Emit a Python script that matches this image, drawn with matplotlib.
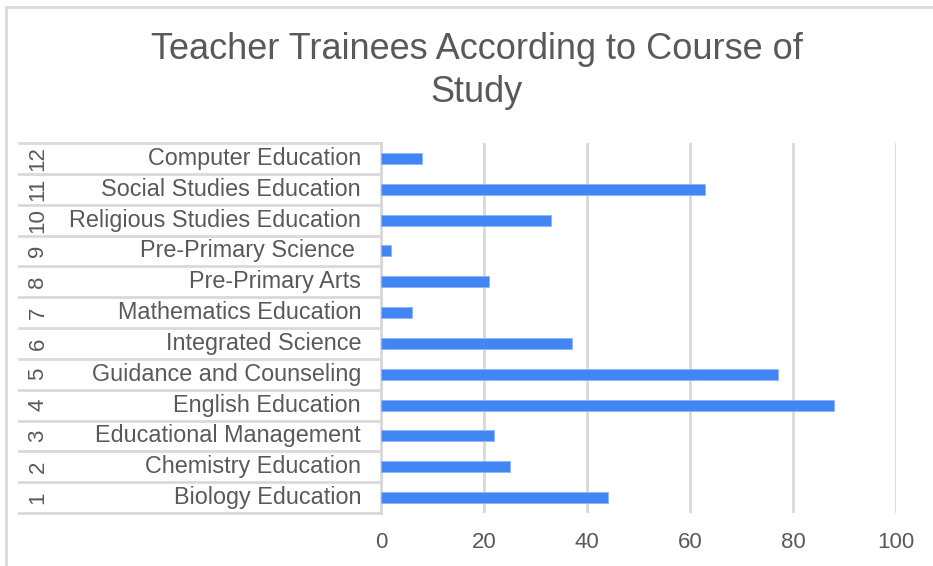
import numpy as np
from matplotlib import pyplot as plt
from matplotlib.lines import Line2D
from matplotlib import transforms

## data (bottom to top)
numbers = ['1', '2', '3', '4', '5', '6', '7', '8', '9', '10', '11', '12']
courses = ['Biology Education', 'Chemistry Education', 'Educational Management',
           'English Education', 'Guidance and Counseling', 'Integrated Science',
           'Mathematics Education', 'Pre-Primary Arts', 'Pre-Primary Science ',
           'Religious Studies Education', 'Social Studies Education', 'Computer Education']
trainees = [44, 25, 22, 88, 77, 37, 6, 21, 2, 33, 63, 8]
xticks = [0, 20, 40, 60, 80, 100]

plt.rcParams['font.family'] = ['Liberation Sans', 'DejaVu Sans']
txtcol = '#595959'
gridcol = '#d9d9d9'
W, H = 933, 566

fig = plt.figure(figsize=(W/100, H/100), dpi=100)
ax = fig.add_axes([381/W, 1-513/H, (896-381)/W, (513-143)/H])

ypos = np.arange(len(trainees))
ax.barh(ypos, trainees, height=0.36, color='#4285f4', edgecolor='#8fb4f8', linewidth=0.6, zorder=3)

ax.set_xlim(0, 100)
ax.set_ylim(-0.5, len(trainees)-0.5)
ax.set_xticks(xticks)
ax.set_yticks([])
ax.tick_params(axis='x', length=0, pad=14, labelsize=16, labelcolor=txtcol)
ax.xaxis.grid(True, color=gridcol, linewidth=2, zorder=0)
for s in ['top', 'right', 'bottom']:
    ax.spines[s].set_visible(False)
ax.spines['left'].set_color(gridcol)
ax.spines['left'].set_linewidth(2)

## category table to the left of the axis
tr = transforms.blended_transform_factory(fig.transFigure, ax.transData)
for k in range(len(trainees)+1):
    fig.add_artist(Line2D([19/W, 381/W], [k-0.5, k-0.5], transform=tr, color=gridcol, linewidth=2))
for i in range(len(trainees)):
    fig.text(38/W, i, numbers[i], transform=tr, rotation=90, ha='center', va='center',
             fontsize=16, color=txtcol, rotation_mode='anchor')
    fig.text(361/W, i, courses[i], transform=tr, ha='right', va='center', fontsize=16.8, color=txtcol)

## outer chart border
fig.add_artist(Line2D([6/W, 6/W], [0, 1-7/H], transform=fig.transFigure, color=gridcol, linewidth=2))
fig.add_artist(Line2D([6/W, 1], [1-7/H, 1-7/H], transform=fig.transFigure, color=gridcol, linewidth=2))

fig.text(477/W, 1-71/H, 'Teacher Trainees According to Course of\nStudy', ha='center', va='center',
         fontsize=26, color=txtcol, linespacing=1.28)

fig.savefig('out.png', dpi=100)
